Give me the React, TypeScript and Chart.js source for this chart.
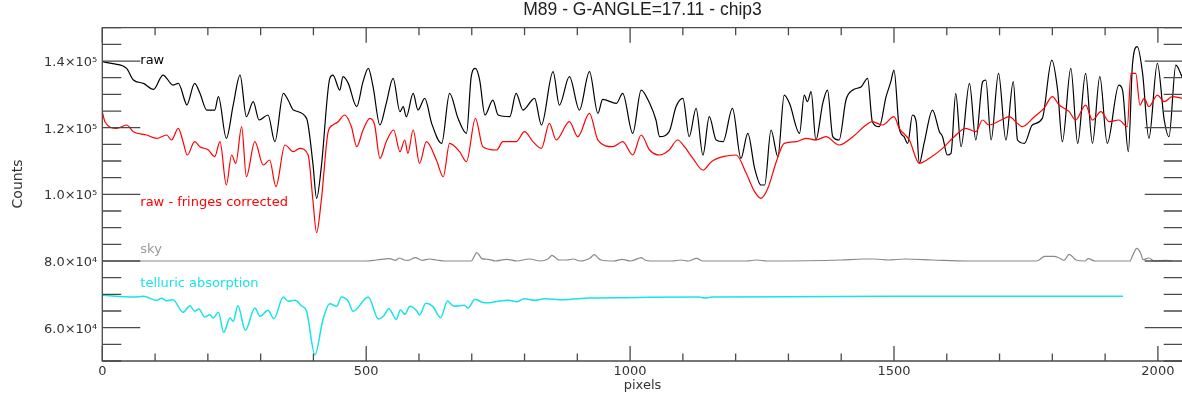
import React, { useEffect, useRef } from 'react';
import { Chart, registerables } from 'chart.js';

Chart.register(...registerables);

// ---- data (x in detector pixels, y in counts) ----
const RAW_X = [0, 20, 46, 59, 78, 97, 115, 134, 144, 157, 160, 175, 185, 198, 213, 220, 235, 248, 261, 273, 286, 297, 314, 327, 343, 352, 362, 387, 399, 406, 415, 431, 437, 450, 456, 466, 482, 494, 504, 513, 526, 538, 551, 564, 570, 576, 589, 598, 611, 624, 643, 658, 674, 690, 699, 707, 715, 725, 740, 750, 772, 784, 797, 819, 832, 854, 866, 885, 904, 923, 939, 948, 974, 986, 1005, 1021, 1037, 1049, 1056, 1074, 1087, 1100, 1112, 1125, 1138, 1150, 1163, 1176, 1194, 1210, 1223, 1236, 1248, 1255, 1267, 1280, 1292, 1302, 1321, 1330, 1336, 1343, 1352, 1365, 1374, 1384, 1396, 1409, 1422, 1438, 1450, 1459, 1472, 1485, 1494, 1500, 1510, 1519, 1526, 1535, 1542, 1548, 1557, 1573, 1586, 1592, 1601, 1608, 1617, 1627, 1643, 1655, 1668, 1674, 1684, 1698, 1712, 1726, 1734, 1747, 1762, 1781, 1799, 1810, 1819, 1835, 1848, 1863, 1876, 1890, 1904, 1926, 1933, 1944, 1952, 1961, 1971, 1983, 1999, 2012, 2021, 2034, 2047];
const RAW_Y = [139800, 139200, 137800, 134300, 133300, 131500, 135800, 132800, 133300, 127800, 126800, 133300, 130300, 125300, 125300, 129300, 116800, 126800, 135800, 123300, 127800, 122300, 123800, 115800, 130300, 128300, 125300, 122800, 109300, 98800, 108300, 134800, 135800, 131300, 135300, 133300, 126300, 133800, 137800, 132300, 120800, 127300, 134800, 124800, 126300, 123300, 130300, 125300, 128800, 121300, 115300, 130300, 122800, 118300, 135300, 137800, 134300, 123800, 128300, 123800, 123300, 130300, 125300, 128800, 120800, 136800, 126800, 135300, 125300, 136800, 124300, 128500, 127300, 130300, 118300, 131300, 127300, 122300, 117300, 118800, 126300, 128800, 117300, 125800, 111800, 123300, 116300, 115800, 125800, 110800, 118300, 107800, 102800, 102800, 119300, 111300, 129800, 127300, 118300, 129800, 127800, 130800, 116300, 127300, 131300, 117300, 116300, 128300, 131300, 132300, 134800, 121800, 120300, 129300, 133800, 137300, 119800, 117300, 115300, 123800, 121800, 109300, 115300, 125300, 118800, 117300, 111800, 112300, 130300, 114300, 133300, 116300, 133800, 134300, 116300, 136300, 116300, 133800, 116300, 115300, 120800, 122800, 140300, 131300, 115800, 137800, 115300, 136300, 115300, 135300, 115300, 132800, 131300, 112800, 139300, 144300, 136300, 116800, 139300, 122300, 117300, 138800, 134800];

const CORR_X = [0, 5, 27, 46, 59, 84, 103, 122, 131, 144, 153, 161, 175, 185, 201, 213, 223, 235, 245, 253, 264, 273, 289, 305, 317, 329, 346, 362, 374, 390, 399, 406, 415, 428, 437, 447, 459, 472, 482, 494, 507, 516, 526, 538, 552, 564, 573, 579, 589, 601, 614, 633, 646, 658, 677, 690, 707, 721, 747, 759, 784, 800, 816, 832, 847, 860, 885, 901, 923, 939, 967, 986, 1005, 1021, 1037, 1056, 1074, 1090, 1103, 1119, 1138, 1154, 1176, 1201, 1220, 1236, 1248, 1261, 1277, 1292, 1315, 1333, 1352, 1371, 1396, 1422, 1447, 1459, 1478, 1500, 1510, 1529, 1548, 1567, 1592, 1614, 1636, 1655, 1668, 1680, 1703, 1718, 1734, 1743, 1766, 1784, 1800, 1813, 1832, 1844, 1863, 1876, 1892, 1908, 1926, 1942, 1949, 1958, 1966, 1974, 1983, 1999, 2012, 2027, 2047];
const CORR_Y = [124800, 121800, 119800, 120800, 118800, 117800, 116800, 117800, 116300, 119800, 115800, 111800, 115800, 114300, 113300, 111300, 115800, 102800, 111800, 109300, 120300, 105300, 115800, 108800, 110300, 102300, 114800, 112800, 113800, 111800, 98300, 88500, 98300, 118800, 120800, 121800, 123800, 120300, 114300, 119300, 122800, 120800, 110800, 115800, 119300, 112800, 116300, 112300, 119300, 109300, 115800, 110300, 105300, 115300, 112800, 109800, 122800, 114300, 113300, 115800, 115800, 118800, 115800, 113800, 121300, 116300, 121800, 117300, 124300, 116300, 114300, 115800, 111800, 117800, 113300, 111800, 113300, 116300, 114300, 110800, 107300, 109800, 111300, 111800, 106300, 100800, 98800, 101800, 109800, 115300, 115800, 116800, 116300, 117300, 114800, 117300, 120800, 121800, 120800, 123300, 119800, 116300, 109300, 110800, 113800, 117300, 119800, 118800, 122300, 120800, 122300, 123300, 121300, 120300, 123300, 125800, 129300, 126800, 124800, 122300, 126800, 122300, 124800, 121800, 122300, 120300, 136300, 136300, 126800, 128800, 126300, 129800, 127800, 129300, 128800];

const SKY_X = [0, 500, 520, 545, 555, 563, 572, 580, 593, 606, 620, 633, 650, 699, 705, 709, 714, 719, 731, 745, 766, 785, 809, 830, 845, 852, 860, 866, 880, 892, 905, 925, 932, 940, 945, 970, 985, 1000, 1015, 1021, 1028, 1040, 1080, 1096, 1110, 1126, 1138, 1220, 1240, 1260, 1400, 1440, 1463, 1489, 1521, 1574, 1640, 1770, 1786, 1803, 1813, 1822, 1832, 1845, 1862, 1868, 1881, 1947, 1953, 1960, 1967, 1972, 1983, 1993, 2016, 2027];
const SKY_Y = [80000, 80000, 80300, 80700, 80200, 80900, 80300, 80200, 81000, 80200, 80600, 80300, 80000, 80000, 81500, 82500, 81800, 80700, 80500, 80000, 80500, 80000, 80600, 80000, 80700, 81700, 80800, 80300, 80300, 80600, 80000, 81000, 81900, 80800, 80300, 80000, 80500, 80000, 80700, 81000, 80300, 80000, 80000, 80300, 80000, 80800, 80000, 80000, 80300, 80000, 80300, 80600, 80600, 80300, 80600, 80300, 80000, 80000, 81400, 81400, 80900, 80200, 82000, 80300, 80000, 80700, 80000, 80000, 82000, 83800, 82500, 80400, 80900, 80000, 80200, 80000];

const TELL_X = [0, 59, 78, 103, 112, 122, 134, 153, 166, 175, 183, 194, 204, 210, 220, 230, 242, 248, 257, 271, 289, 299, 314, 325, 343, 352, 365, 377, 387, 403, 418, 431, 444, 453, 466, 475, 504, 523, 533, 543, 557, 565, 573, 583, 596, 601, 613, 626, 641, 654, 666, 686, 693, 706, 723, 733, 753, 769, 786, 799, 819, 839, 872, 925, 991, 1037, 1130, 1142, 1155, 1300, 1500, 1700, 1934];
const TELL_Y = [69700, 69200, 69400, 68200, 68800, 68100, 68400, 64600, 66600, 64900, 65600, 63200, 63900, 62900, 64600, 58600, 62900, 61900, 66600, 59200, 65900, 63400, 65200, 62700, 69200, 67900, 68200, 66600, 64900, 51900, 62400, 67200, 66400, 69200, 67900, 64900, 69200, 62600, 63500, 65700, 62500, 65400, 64000, 66400, 65000, 63800, 67300, 66400, 63000, 68000, 66400, 66700, 65900, 68500, 67500, 67500, 68000, 68200, 67800, 68700, 68200, 68700, 68400, 68900, 69000, 69100, 69200, 68900, 69200, 69300, 69400, 69400, 69400];

const X_TICKS = [0, 500, 1000, 1500, 2000];
const Y_TICKS = [60000, 80000, 100000, 120000, 140000];
const Y_TICK_LABELS = ['6.0×10⁴', '8.0×10⁴', '1.0×10⁵', '1.2×10⁵', '1.4×10⁵'];
const X_RANGE = [0, 2047];
const Y_RANGE = [50000, 150000];
const X_MINOR = 100;
const Y_MINOR = 5000;

const TITLE = 'M89 - G-ANGLE=17.11 - chip3';
const X_TITLE = 'pixels';
const Y_TITLE = 'Counts';

const SERIES_LABELS = [
  { text: 'raw', x: 72, y: 139000, color: '#000000' },
  { text: 'raw - fringes corrected', x: 72, y: 96400, color: '#ff0000' },
  { text: 'sky', x: 72, y: 82300, color: '#9a9a9a' },
  { text: 'telluric absorption', x: 72, y: 72200, color: '#19e3e6' },
];

const FONT = "'DejaVu Sans', sans-serif";
const AXIS_COLOR = '#4a4a4a';

const zip = (xs: number[], ys: number[]) => xs.map((x, i) => ({ x, y: ys[i] }));

const framePlugin = {
  id: 'idlFrame',
  afterDatasetsDraw(chart: any) {
    const { ctx, chartArea: a, scales } = chart;
    const xs = scales.x;
    const ys = scales.y;
    ctx.save();
    ctx.strokeStyle = AXIS_COLOR;
    ctx.lineWidth = 1.3;
    ctx.beginPath();
    ctx.rect(a.left, a.top, a.right - a.left, a.bottom - a.top);
    ctx.stroke();
    ctx.beginPath();
    for (let v = X_RANGE[0]; v <= X_RANGE[1]; v += X_MINOR) {
      const px = xs.getPixelForValue(v);
      const len = v % 500 === 0 ? 15 : 7.5;
      ctx.moveTo(px, a.bottom);
      ctx.lineTo(px, a.bottom - len);
      ctx.moveTo(px, a.top);
      ctx.lineTo(px, a.top + len);
    }
    for (let v = Y_RANGE[0]; v <= Y_RANGE[1]; v += Y_MINOR) {
      const py = ys.getPixelForValue(v);
      const len = Y_TICKS.includes(v) ? 38 : 19;
      ctx.moveTo(a.left, py);
      ctx.lineTo(a.left + len, py);
      ctx.moveTo(a.right, py);
      ctx.lineTo(a.right - len, py);
    }
    ctx.stroke();

    ctx.font = `13px ${FONT}`;
    ctx.textAlign = 'left';
    ctx.textBaseline = 'alphabetic';
    for (const l of SERIES_LABELS) {
      ctx.fillStyle = l.color;
      ctx.fillText(l.text, xs.getPixelForValue(l.x), ys.getPixelForValue(l.y));
    }

    ctx.fillStyle = '#222';
    ctx.textAlign = 'center';
    ctx.textBaseline = 'middle';
    ctx.font = "17.5px 'Liberation Sans', Arial, sans-serif";
    ctx.fillText(TITLE, (a.left + a.right) / 2, 10);

    ctx.font = `13px ${FONT}`;
    ctx.fillStyle = '#333';
    ctx.textBaseline = 'alphabetic';
    ctx.fillText(X_TITLE, (a.left + a.right) / 2, 389);

    ctx.save();
    ctx.translate(22, 184);
    ctx.rotate(-Math.PI / 2);
    ctx.font = `14px ${FONT}`;
    ctx.textAlign = 'center';
    ctx.textBaseline = 'alphabetic';
    ctx.fillText(Y_TITLE, 0, 0);
    ctx.restore();
    ctx.restore();
  },
};

export default function App() {
  const ref = useRef<HTMLCanvasElement | null>(null);
  useEffect(() => {
    if (!ref.current) return;
    Chart.defaults.font.family = FONT;
    const line = (label: string, data: any[], color: string, width: number, order: number) => ({
      label,
      data,
      borderColor: color,
      backgroundColor: color,
      borderWidth: width,
      pointRadius: 0,
      fill: false,
      cubicInterpolationMode: 'monotone' as const,
      order,
    });
    const chart = new Chart(ref.current, {
      type: 'line',
      data: {
        datasets: [
          line('raw - fringes corrected', zip(CORR_X, CORR_Y), '#ff0000', 1.2, 2),
          line('raw', zip(RAW_X, RAW_Y), '#000000', 1.2, 3),
          line('sky', zip(SKY_X, SKY_Y), '#8a8a8a', 1.2, 1),
          line('telluric absorption', zip(TELL_X, TELL_Y), '#19e3e6', 1.5, 0),
        ],
      },
      options: {
        responsive: false,
        animation: false,
        devicePixelRatio: 1,
        layout: { padding: { top: 27.7, right: 7.3, left: 0, bottom: 0 } },
        plugins: {
          legend: { display: false },
          tooltip: { enabled: false },
          title: { display: false },
        },
        scales: {
          x: {
            type: 'linear',
            min: X_RANGE[0],
            max: X_RANGE[1],
            grid: { display: false, drawTicks: false },
            border: { display: false },
            ticks: {
              padding: 3,
              autoSkip: false,
              maxRotation: 0,
              color: '#333',
              font: { family: FONT, size: 13 },
              callback: (v: any) => String(v),
            },
            afterBuildTicks: (s: any) => {
              s.ticks = X_TICKS.map((value) => ({ value }));
            },
            afterFit: (s: any) => {
              s.height = 34;
            },
          },
          y: {
            type: 'linear',
            min: Y_RANGE[0],
            max: Y_RANGE[1],
            grid: { display: false, drawTicks: false },
            border: { display: false },
            ticks: {
              padding: 5,
              autoSkip: false,
              labelOffset: 1.5,
              color: '#333',
              font: { family: FONT, size: 13 },
              callback: (v: any) => {
                const i = Y_TICKS.indexOf(Number(v));
                return i >= 0 ? Y_TICK_LABELS[i] : '';
              },
            },
            afterBuildTicks: (s: any) => {
              s.ticks = Y_TICKS.map((value) => ({ value }));
            },
            afterFit: (s: any) => {
              s.width = 102.3;
            },
          },
        },
      },
      plugins: [framePlugin],
    });
    return () => chart.destroy();
  }, []);
  return (
    <div style={{ position: 'absolute', left: 0, top: 0, width: 1182, height: 395, overflow: 'hidden', background: '#fff' }}>
      <canvas ref={ref} width={1190} height={395} style={{ display: 'block' }} />
    </div>
  );
}
